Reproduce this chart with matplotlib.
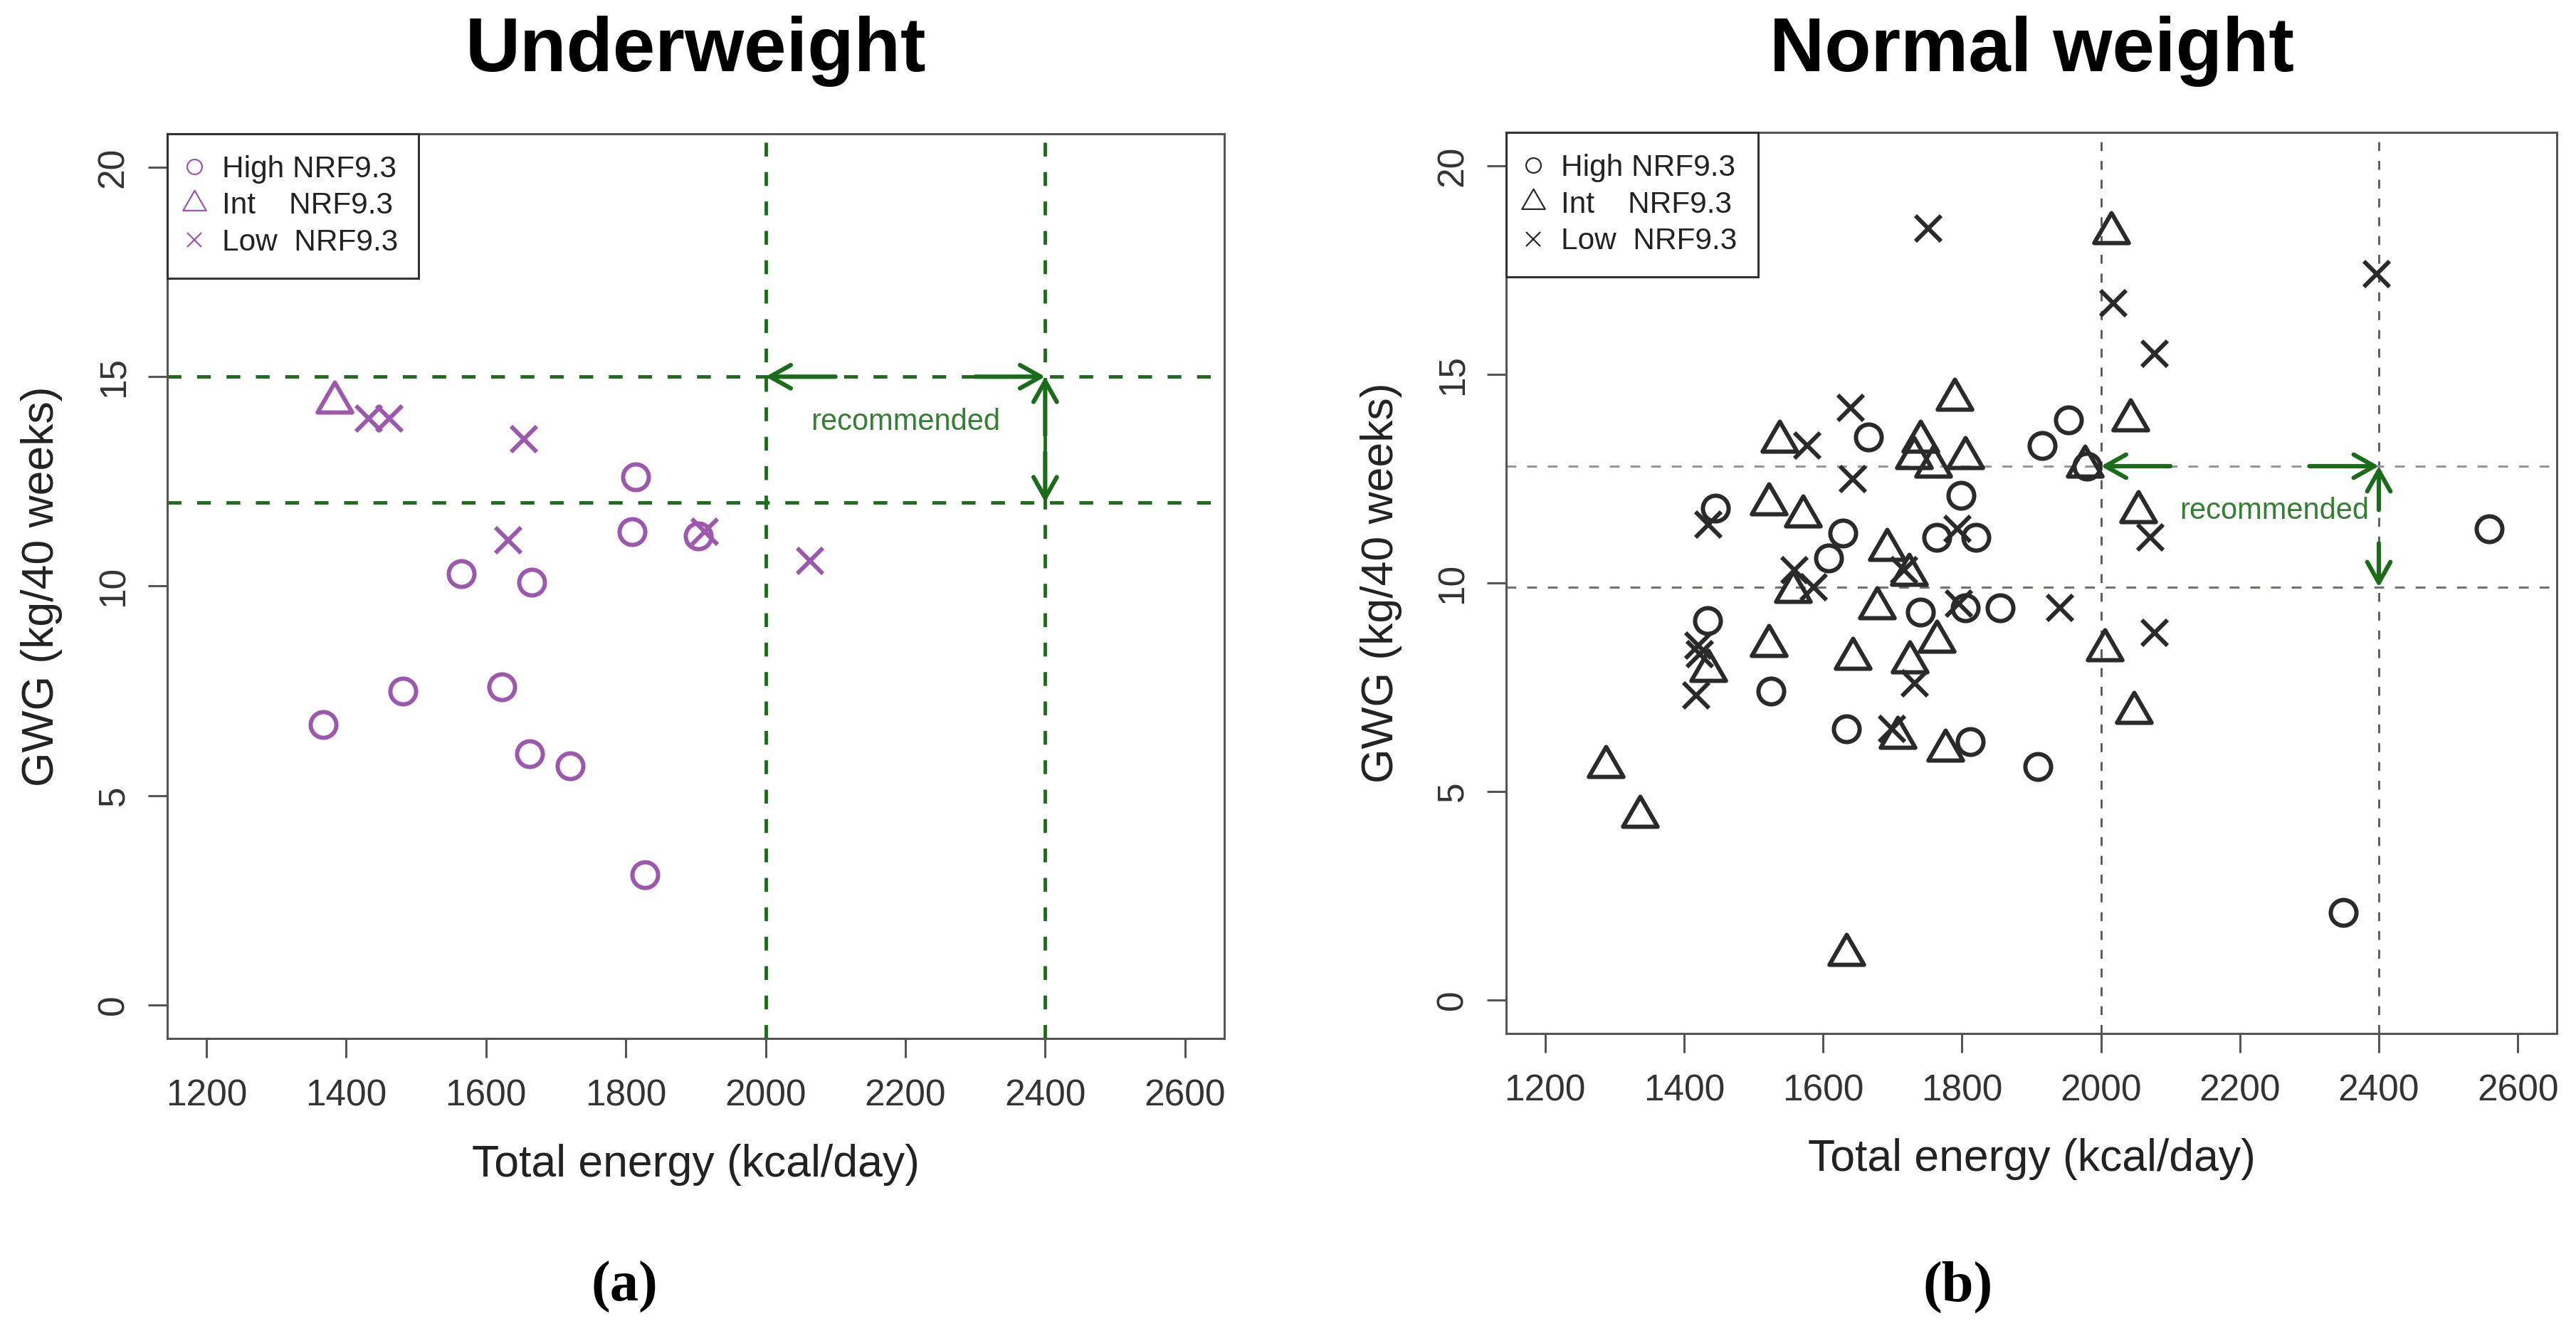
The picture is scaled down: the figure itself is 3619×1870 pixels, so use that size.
import numpy as np
import matplotlib
matplotlib.use("Agg")
import matplotlib.pyplot as plt
from matplotlib.path import Path
from matplotlib.lines import Line2D
from matplotlib.patches import FancyArrowPatch

plt.rcParams['font.family'] = ['Liberation Sans', 'DejaVu Sans']

# --- datos: bajo peso (a) ---
uw_high_x = [1367, 1481, 1565, 1623, 1665, 1662, 1720, 1814, 1809, 1827, 1904]
uw_high_y = [6.7, 7.5, 10.3, 7.6, 10.1, 6.0, 5.7, 12.6, 11.3, 3.1, 11.2]
uw_int_x = [1383]
uw_int_y = [14.4]
uw_low_x = [1432, 1462, 1654, 1632, 1913, 2064]
uw_low_y = [14.0, 14.0, 13.5, 11.1, 11.3, 10.6]

# --- datos: peso normal (b) ---
nw_high_x = [1445, 1434, 1525, 1629, 1608, 1665, 1634, 1740, 1764, 1799, 1820,
             1805, 1855, 1812, 1909, 1915, 1953, 1980, 2349, 2559]
nw_high_y = [11.8, 9.1, 7.4, 11.2, 10.6, 13.5, 6.5, 9.3, 11.1, 12.1, 11.1,
             9.4, 9.4, 6.2, 5.6, 13.3, 13.9, 12.8, 2.1, 11.3]
nw_int_x = [1287, 1337, 1435, 1522, 1522, 1537, 1571, 1557, 1643, 1634, 1678,
            1692, 1707, 1724, 1725, 1740, 1731, 1759, 1764, 1776, 1789, 1805,
            1977, 2015, 2006, 2042, 2054, 2048]
nw_int_y = [5.6, 4.4, 7.9, 8.5, 11.9, 13.4, 11.6, 9.8, 8.2, 1.1, 9.4,
            10.8, 6.3, 10.2, 8.1, 13.4, 13.0, 12.8, 8.6, 6.0, 14.4, 13.0,
            12.8, 18.4, 8.4, 13.9, 11.7, 6.9]
nw_low_x = [1752, 1640, 1577, 1643, 1435, 1559, 1587, 1421, 1423, 1418, 1717,
            1732, 1699, 1794, 1796, 1941, 2018, 2077, 2071, 2077, 2397]
nw_low_y = [18.5, 14.2, 13.3, 12.5, 11.4, 10.3, 9.9, 8.5, 8.3, 7.3, 10.3,
            7.6, 6.5, 11.3, 9.5, 9.4, 16.7, 15.5, 11.1, 8.8, 17.4]

# rangos recomendados
energia_rec = [2000, 2400]
uw_gwg_rec = [12.0, 15.0]
nw_gwg_rec = [9.9, 12.8]
uw_flecha_v = [13.6, 13.2]   # inicio de las flechas verticales
nw_flecha_v = [11.75, 10.95]
flecha_h = [2100, 2300]      # inicio de las flechas horizontales

etiquetas = ['High NRF9.3', 'Int    NRF9.3', 'Low  NRF9.3']
xticks = [1200, 1400, 1600, 1800, 2000, 2200, 2400, 2600]
yticks = [0, 5, 10, 15, 20]

# triangulo estilo R (centrado en el circuncentro)
tri = Path([(0, 1), (-0.866, -0.5), (0.866, -0.5), (0, 1)],
           [Path.MOVETO, Path.LINETO, Path.LINETO, Path.CLOSEPOLY])

MS = 26
GREEN = '#1f6a1f'

fig = plt.figure(figsize=(36.19, 18.70), dpi=100)
ax1 = fig.add_axes([0.0649, 0.2198, 0.4103, 0.6797])
ax2 = fig.add_axes([0.5847, 0.2235, 0.4078, 0.6770])


def puntos(ax, xs, ys, marker, color, ms):
    ax.plot(xs, ys, linestyle='none', marker=marker, ms=ms, mfc='none',
            mec=color, mew=4.3)


def flecha(ax, x0, y0, x1, y1):
    ax.add_patch(FancyArrowPatch((x0, y0), (x1, y1),
                                 arrowstyle='->,head_length=0.5,head_width=0.28',
                                 mutation_scale=42, color='#1a6b1a', lw=4.4,
                                 shrinkA=0, shrinkB=0, zorder=4))


def estilo(ax, titulo, color, pad_t):
    ax.set_xlim(1144, 2656)
    ax.set_ylim(-0.8, 20.8)
    ax.set_xticks(xticks)
    ax.set_yticks(yticks)
    ax.tick_params(axis='both', length=19.4, width=2.2, color='#555555',
                   labelsize=37, labelcolor='#333333')
    ax.tick_params(axis='x', pad=21.5)
    ax.tick_params(axis='y', pad=17, labelrotation=90)
    for lab in ax.get_yticklabels():
        lab.set_va('center')
    for s in ax.spines.values():
        s.set_linewidth(2.2)
        s.set_color('#555555')
    ax.set_xlabel('Total energy (kcal/day)', fontsize=45, color='#222222', va='baseline')
    ax.xaxis.set_label_coords(0.5, -0.1526)
    ax.set_ylabel('GWG (kg/40 weeks)', fontsize=45, color='#222222', va='baseline')
    ax.yaxis.set_label_coords(-0.1075, 0.5)
    ax.set_title(titulo, fontsize=77, fontweight='bold', pad=pad_t)
    handles = [Line2D([], [], linestyle='none', marker='o', ms=15, mfc='none', mec=color, mew=1.6),
               Line2D([], [], linestyle='none', marker=tri, ms=27, mfc='none', mec=color, mew=1.6),
               Line2D([], [], linestyle='none', marker='x', ms=15, mec=color, mew=1.6)]
    leg = ax.legend(handles, etiquetas, loc='upper left', borderaxespad=0,
                    fontsize=30.5, fancybox=False, framealpha=1, edgecolor='#333333',
                    borderpad=0.7, handlelength=0.38, handletextpad=0.73,
                    labelspacing=0.28, labelcolor='#222222')
    leg.get_frame().set_linewidth(2.2)
    leg.set_zorder(5)


# (a) Underweight
PURPLE = '#9c58ad'
for xv in energia_rec:
    ax1.axvline(xv, color=GREEN, lw=3.5, ls=(0, (4, 4.5)), zorder=1)
for yv in uw_gwg_rec:
    ax1.axhline(yv, color=GREEN, lw=3.5, ls=(0, (4, 4.5)), zorder=1)
puntos(ax1, uw_high_x, uw_high_y, 'o', PURPLE, MS)
puntos(ax1, uw_int_x, uw_int_y, tri, PURPLE, MS * 1.556)
puntos(ax1, uw_low_x, uw_low_y, 'x', PURPLE, MS)
flecha(ax1, flecha_h[0], uw_gwg_rec[1], energia_rec[0], uw_gwg_rec[1])
flecha(ax1, flecha_h[1], uw_gwg_rec[1], energia_rec[1], uw_gwg_rec[1])
flecha(ax1, energia_rec[1], uw_flecha_v[0], energia_rec[1], uw_gwg_rec[1])
flecha(ax1, energia_rec[1], uw_flecha_v[1], energia_rec[1], uw_gwg_rec[0])
ax1.text(2200, 13.73, 'recommended', fontsize=30, color='#357f35', ha='center', va='baseline')
estilo(ax1, 'Underweight', PURPLE, 63)

# (b) Normal weight
BLACK = '#2a2a2a'
for xv in energia_rec:
    ax2.axvline(xv, color='#555555', lw=2.0, ls=(0, (4.5, 5)), zorder=1)
ax2.axhline(nw_gwg_rec[1], color='#909a90', lw=2.2, ls=(0, (4.5, 5)), zorder=1)
ax2.axhline(nw_gwg_rec[0], color='#6c756c', lw=2.2, ls=(0, (4.5, 5)), zorder=1)
puntos(ax2, nw_high_x, nw_high_y, 'o', BLACK, MS)
puntos(ax2, nw_int_x, nw_int_y, tri, BLACK, MS * 1.556)
puntos(ax2, nw_low_x, nw_low_y, 'x', BLACK, MS)
flecha(ax2, flecha_h[0], nw_gwg_rec[1], energia_rec[0], nw_gwg_rec[1])
flecha(ax2, flecha_h[1], nw_gwg_rec[1], energia_rec[1], nw_gwg_rec[1])
flecha(ax2, energia_rec[1], nw_flecha_v[0], energia_rec[1], nw_gwg_rec[1])
flecha(ax2, energia_rec[1], nw_flecha_v[1], energia_rec[1], nw_gwg_rec[0])
ax2.text(2250, 11.54, 'recommended', fontsize=30, color='#357f35', ha='center', va='baseline')
estilo(ax2, 'Normal weight', BLACK, 62)

fig.text(0.2423, 0.0225, '(a)', fontsize=58, fontweight='bold', ha='center',
         va='baseline', family=['Liberation Serif', 'DejaVu Serif'])
fig.text(0.7601, 0.0225, '(b)', fontsize=58, fontweight='bold', ha='center',
         va='baseline', family=['Liberation Serif', 'DejaVu Serif'])

fig.savefig('out.png', dpi=100)
